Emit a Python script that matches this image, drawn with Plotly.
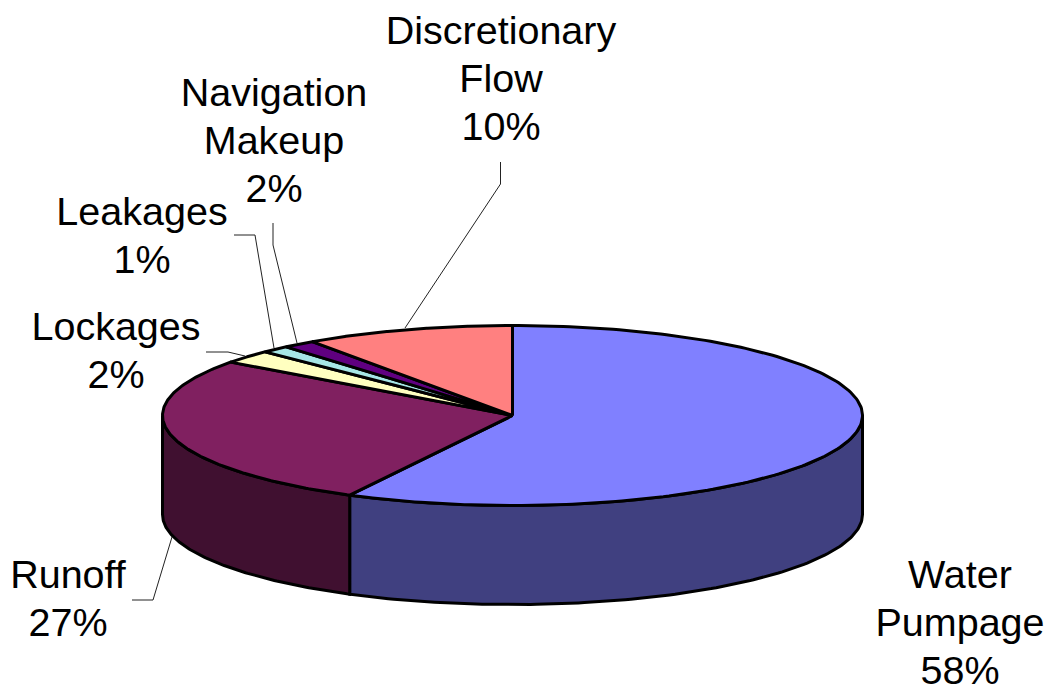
import numpy as np
import plotly.graph_objects as go

categories = ["Water|Pumpage", "Runoff", "Lockages", "Leakages", "Navigation|Makeup", "Discretionary|Flow"]
values = [57.7, 27.4, 2.4, 1.3, 1.5, 9.7]
top_colors = ["#8080FF", "#802060", "#FFFFC0", "#A6E6E6", "#600080", "#FF8080"]
side_colors = ["#404080", "#401030", "#808060", "#537373", "#300040", "#804040"]
label_x = [960, 68, 116, 142, 274, 501]
label_y = [578.5, 578.5, 330.5, 215.5, 96.5, 34.5]
leaders = [
    None,
    [(132, 600), (153, 600), (172, 537)],
    [(206, 352), (228, 352), (245, 356)],
    [(234, 235), (255, 235), (274, 348)],
    [(273, 223), (273, 245), (297, 343)],
    [(500.5, 162), (500.5, 184), (405, 328)],
]
CX, CY, RX, RY, DEPTH = 512.5, 415.5, 350, 90, 99
LINE_STEP = 48


def pt(a, dy=0.0):
    return CX + RX * np.sin(a), CY - RY * np.cos(a) + dy


fig = go.Figure()
fracs = np.cumsum([0] + values) / sum(values) * 2 * np.pi


def poly(xs, ys, color):
    fig.add_trace(go.Scatter(x=xs, y=ys, mode="lines", fill="toself", fillcolor=color,
                             line=dict(color="black", width=3), hoverinfo="skip", showlegend=False))


# outer walls: only the front half (angles 90..270 degrees) is visible
for i in range(len(values)):
    a0, a1 = max(fracs[i], np.pi / 2), min(fracs[i + 1], 1.5 * np.pi)
    if a1 <= a0:
        continue
    t = np.linspace(a0, a1, 120)
    x1, y1 = pt(t)
    x2, y2 = pt(t[::-1], DEPTH)
    poly(np.r_[x1, x2, x1[0]], np.r_[y1, y2, y1[0]], side_colors[i])

# top faces
for i in range(len(values)):
    t = np.linspace(fracs[i], fracs[i + 1], 200)
    x1, y1 = pt(t)
    poly(np.r_[CX, x1, CX], np.r_[CY, y1, CY], top_colors[i])

# leader lines
for seg in leaders:
    if seg:
        fig.add_trace(go.Scatter(x=[p[0] for p in seg], y=[p[1] for p in seg], mode="lines",
                                 line=dict(color="#222222", width=1), hoverinfo="skip", showlegend=False))

# labels: each line is its own text point so the line spacing can follow the reference
tx, ty, tt = [], [], []
for c, v, x, y in zip(categories, values, label_x, label_y):
    lines = c.split("|") + [f"{round(v)}%"]
    for j, s in enumerate(lines):
        tx.append(x)
        ty.append(y + j * LINE_STEP)
        tt.append(s)
fig.add_trace(go.Scatter(x=tx, y=ty, mode="text", text=tt, textposition="middle center",
                         textfont=dict(family="Liberation Sans", size=39.5, color="black"),
                         hoverinfo="skip", showlegend=False, cliponaxis=False))

fig.update_layout(width=1048, height=690, margin=dict(l=0, r=0, t=0, b=0),
                  paper_bgcolor="white", plot_bgcolor="white",
                  xaxis=dict(range=[0, 1048], visible=False, fixedrange=True),
                  yaxis=dict(range=[690, 0], visible=False, fixedrange=True))
fig.write_html("out.html", config={"displayModeBar": False},
               post_script="document.body.style.margin='0';document.body.style.overflow='hidden';")
